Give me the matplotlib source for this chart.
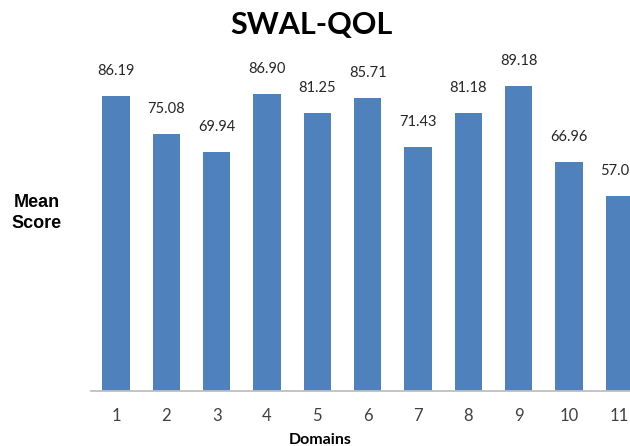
import matplotlib
matplotlib.use("Agg")
import matplotlib.pyplot as plt

domains = [1, 2, 3, 4, 5, 6, 7, 8, 9, 10, 11]
mean_scores = [86.19, 75.08, 69.94, 86.90, 81.25, 85.71, 71.43, 81.18, 89.18, 66.96, 57.03]
value_labels = ["86.19", "75.08", "69.94", "86.90", "81.25", "85.71", "71.43", "81.18", "89.18", "66.96", "57.03"]
tick_labels = [str(d) for d in domains]

W, H = 630, 446
fig = plt.figure(figsize=(W / 100, H / 100), dpi=100)
fig.patch.set_facecolor("white")

ax = fig.add_axes([90.8 / W, 55 / H, 553.7 / W, 342 / H])
ax.bar(domains, mean_scores, width=0.54, color="#4F81BD", zorder=2)
ax.set_xlim(0.5, 11.5)
ax.set_ylim(0, 100)

for x, v, lab in zip(domains, mean_scores, value_labels):
    ax.annotate(lab, (x, v), xytext=(0, 18), textcoords="offset points",
                ha="center", va="center", fontsize=10.5, family="Lato",
                color="#262626", annotation_clip=False)

for s in ["top", "right", "left"]:
    ax.spines[s].set_visible(False)
ax.spines["bottom"].set_color("#BFBFBF")
ax.spines["bottom"].set_linewidth(1.3)
ax.set_yticks([])
ax.set_xticks(domains)
ax.set_xticklabels(tick_labels, fontsize=12, family="Lato", color="#404040")
ax.tick_params(axis="x", length=0, pad=12)

fig.text(311.5 / W, 1 - 25 / H, "SWAL-QOL", ha="center", va="center",
         fontsize=22, fontweight="bold", family="Lato", color="black")
fig.text(37 / W, 1 - 213 / H, "Mean\nScore", ha="center", va="center",
         fontsize=13, fontweight="bold", family="Liberation Sans",
         color="black", linespacing=1.3)
fig.text(320 / W, 1 - 440 / H, "Domains", ha="center", va="center",
         fontsize=11.5, fontweight="bold", family="Lato", color="black")

fig.savefig("out.png", dpi=100)
